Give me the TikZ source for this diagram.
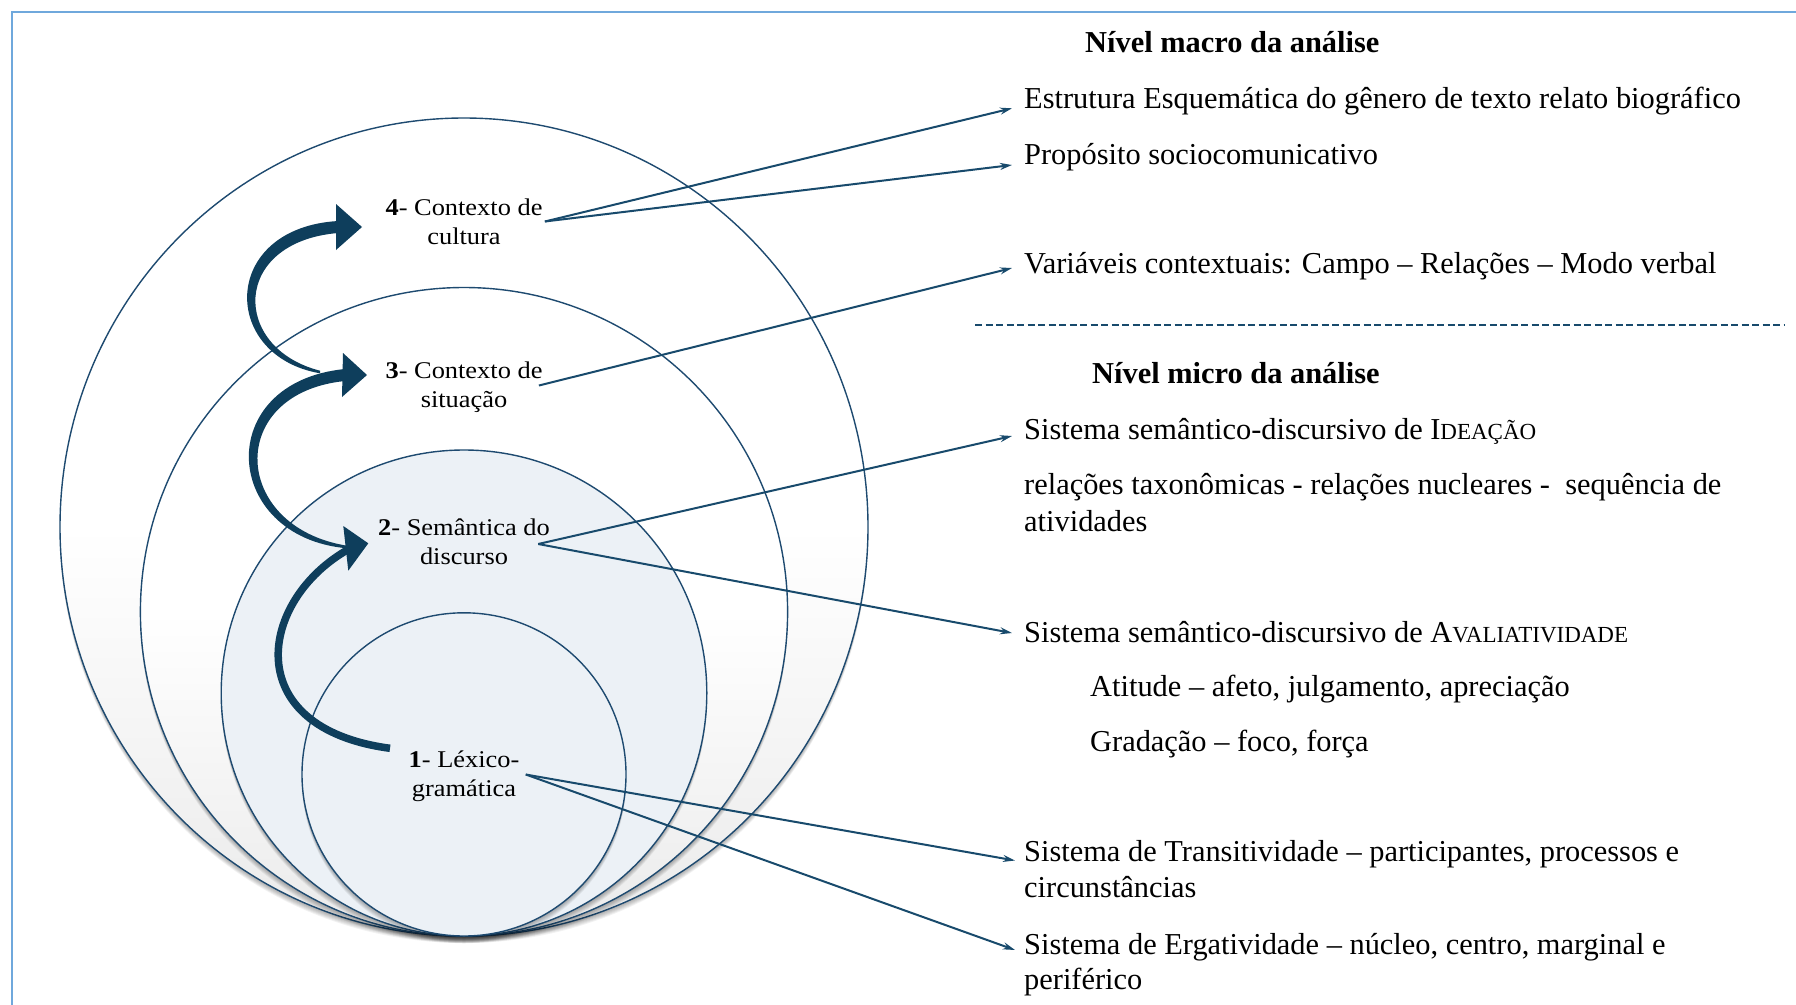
\documentclass[tikz,border=0pt]{standalone}
\usepackage{fontspec}
\setmainfont{Liberation Serif}
\usetikzlibrary{arrows.meta}

\definecolor{ringline}{RGB}{30,74,112}
\definecolor{ringfill}{RGB}{236,241,246}
\definecolor{navy}{RGB}{14,62,92}
\definecolor{linkcol}{RGB}{24,74,108}
\definecolor{framecol}{RGB}{111,168,220}

% white above, soft grey towards the bottom of the two outer rings
\pgfdeclareverticalshading{outerring}{100bp}{color(0bp)=(black!17); color(25bp)=(black!8); color(50bp)=(white); color(100bp)=(white)}

% soft shadow under a ring: centre x, centre y, x radius, y radius
\newcommand\ringshadow[4]{%
  \foreach \k in {1,...,7}{%
    \fill[black, opacity=0.05] (#1,#2+\k) ellipse [x radius=#3pt, y radius=#4pt];
  }%
}

\begin{document}
\begin{tikzpicture}[x=1pt,y=-1pt,
  ring/.style={draw=ringline, line width=1.4pt},
  lbl/.style={font=\fontsize{24}{29}\selectfont, align=center, xscale=1.1, inner sep=2pt},
  item/.style={font=\fontsize{30.4}{36}\selectfont, anchor=base west, inner xsep=12pt, inner ysep=0pt},
  head/.style={font=\fontsize{30.4}{36}\selectfont\bfseries, anchor=base west, inner sep=0pt},
  link/.style={draw=linkcol, line width=2pt, -{Stealth[length=12pt,width=7pt]}},
  bigarrow/.style={fill=navy}
]
\useasboundingbox (0,0) rectangle (1796,1004);
\clip (0,0) rectangle (1796,1004);
\fill[white] (0,0) rectangle (1796,1004);
\draw[framecol, line width=2.4pt] (12,12) rectangle (1820,1030);

% nested rings
\ringshadow{464}{527}{404}{409}
\shade[shading=outerring] (464,527) ellipse [x radius=404pt, y radius=409pt];
\draw[ring] (464,527) ellipse [x radius=404pt, y radius=409pt];

\ringshadow{464}{611.8}{323.6}{324.3}
\shade[shading=outerring] (464,611.8) ellipse [x radius=323.6pt, y radius=324.3pt];
\draw[ring] (464,611.8) ellipse [x radius=323.6pt, y radius=324.3pt];

\ringshadow{464}{693}{242.8}{243}
\fill[ringfill] (464,693) ellipse [x radius=242.8pt, y radius=243pt];
\draw[ring] (464,693) ellipse [x radius=242.8pt, y radius=243pt];

\ringshadow{464}{774.4}{162}{161.6}
\fill[ringfill] (464,774.4) ellipse [x radius=162pt, y radius=161.6pt];
\draw[ring] (464,774.4) ellipse [x radius=162pt, y radius=161.6pt];

% level labels
\node[lbl] (l4) at (464,221.5) {\textbf{4}- Contexto de\\cultura};
\node[lbl] (l3) at (464,387.5) {\textbf{3}- Contexto de\\situação};
\node[lbl] (l2) at (464,542) {\textbf{2}- Semântica do\\discurso};
\node[lbl] (l1) at (464,776.5) {\textbf{1}- Léxico-\\gramática};

% curved arrows between the levels (bodies taper towards their tails)
\fill[bigarrow] (338,221) .. controls (220,228) and (220,356) .. (320,373.3)
  -- (320,370.7) .. controls (231,348) and (231,242) .. (338,233) -- cycle;
\fill[bigarrow] (336,204) -- (362,227) -- (336,250) -- cycle;

\fill[bigarrow] (345,369) .. controls (212,382) and (221,537) .. (347,548.3)
  -- (347,545.7) .. controls (231,527) and (225,393) .. (345,381) -- cycle;
\fill[bigarrow] (343,353) -- (367,375) -- (342,397) -- cycle;

\draw[navy, line width=7.5pt] (390,748.3) .. controls (238,728) and (258,600) .. (349,549);
\fill[bigarrow] (343.3,526) -- (368.3,543.3) -- (348.3,570.7) -- cycle;

% macro level
\node[head] (hmacro) at (1085,52.7) {Nível macro da análise};
\node[item] (t1) at (1012,108.3) {Estrutura Esquemática do gênero de texto relato biográfico};
\node[item] (t2) at (1012,164) {Propósito sociocomunicativo};
\node[item] (t3) at (1012,273) {Variáveis contextuais: Campo – Relações – Modo verbal};

\coordinate (dashL) at (975,325);
\coordinate (dashR) at (1785,325);
\draw[linkcol, line width=2pt, dash pattern=on 7pt off 3.5pt] (dashL) -- (dashR);

% micro level
\node[head] (hmicro) at (1092,383) {Nível micro da análise};
\node[item] (t4) at (1012,439) {Sistema semântico-discursivo de I{\fontsize{23}{28}\selectfont DEAÇÃO}};
\node[item] (t5) at (1012,494.5) {relações taxonômicas - relações nucleares -\ \ sequência de};
\node[item] (t5b) at (1012,531) {atividades};
\node[item] (t6) at (1012,642) {Sistema semântico-discursivo de A{\fontsize{23}{28}\selectfont VALIATIVIDADE}};
\node[item] (t6a) at (1078,696.5) {Atitude – afeto, julgamento, apreciação};
\node[item] (t6b) at (1078,751) {Gradação – foco, força};
\node[item] (t7) at (1012,861.5) {Sistema de Transitividade – participantes, processos e};
\node[item] (t7b) at (1012,897) {circunstâncias};
\node[item] (t8) at (1012,954) {Sistema de Ergatividade – núcleo, centro, marginal e};
\node[item] (t8b) at (1012,989.5) {periférico};

% connectors
\draw[link] (l4.east) -- (t1.base west);
\draw[link] (l4.east) -- ([yshift=-1pt]t2.base west);
\draw[link] ([xshift=-6pt,yshift=2pt]l3.east) -- ([yshift=5pt]t3.base west);
\draw[link] ([xshift=-14pt,yshift=-2pt]l2.east) -- ([yshift=3pt]t4.base west);
\draw[link] ([xshift=-14pt,yshift=-2pt]l2.east) -- ([yshift=9pt]t6.base west);
\draw[link] ([xshift=4pt,yshift=2pt]l1.east) -- ([xshift=3pt,yshift=1pt]t7.base west);
\draw[link] ([xshift=4pt,yshift=2pt]l1.east) -- ([xshift=3pt,yshift=4pt]t8.base west);
\end{tikzpicture}
\end{document}
